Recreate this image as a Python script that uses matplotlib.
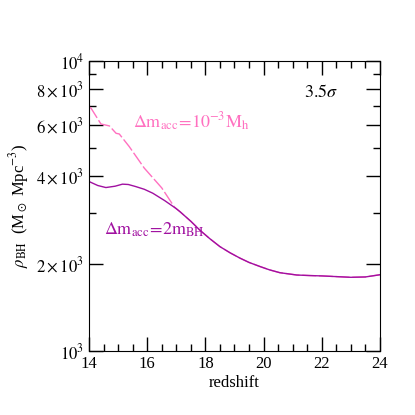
import matplotlib
matplotlib.use("Agg")
import matplotlib.pyplot as plt
from matplotlib.ticker import FixedLocator, FixedFormatter, MultipleLocator

plt.rcParams['font.family'] = ['Liberation Serif', 'DejaVu Serif']
plt.rcParams['mathtext.fontset'] = 'stix'

# solid curve: delta m_acc = 2 m_BH
z_bh = [14.0, 14.3, 14.58, 14.9, 15.15, 15.35, 15.6, 15.9, 16.19, 16.6,
        16.99, 17.13, 17.5, 17.81, 18.15, 18.5, 18.85, 19.19, 19.5, 19.88,
        20.2, 20.56, 21.14, 21.6, 22.0, 22.5, 23.0, 23.5, 24.0]
rho_bh = [3840, 3720, 3660, 3700, 3760, 3750, 3690, 3610, 3500, 3300,
          3100, 3020, 2800, 2610, 2440, 2290, 2180, 2090, 2020, 1955,
          1905, 1862, 1828, 1820, 1815, 1805, 1795, 1800, 1832]

# dashed curve: delta m_acc = 1e-3 M_h (joins the solid one near z~17)
z_h = [14.0, 14.07, 14.41, 14.70, 14.93, 15.04, 15.38, 15.9, 16.5, 16.93,
       16.99, 17.13, 17.5, 17.81, 18.15, 18.5, 18.85, 19.19, 19.5, 19.88,
       20.2, 20.56, 21.14, 21.6, 22.0, 22.5, 23.0, 23.5, 24.0]
rho_h = [6950, 6870, 6060, 5970, 5630, 5600, 5070, 4270, 3650, 3140,
         3100, 3020, 2800, 2610, 2440, 2290, 2180, 2090, 2020, 1955,
         1905, 1862, 1828, 1820, 1815, 1805, 1795, 1800, 1832]

yticks = [1000, 2000, 4000, 6000, 8000, 10000]
ylabels = [r'$10^3$', r'$2\times10^3$', r'$4\times10^3$', r'$6\times10^3$',
           r'$8\times10^3$', r'$10^4$']
yminor = [3000, 5000, 7000, 9000]

purple = '#a010a0'
pink = '#ff70c0'

fig = plt.figure(figsize=(4.15, 4.15), dpi=100)
ax = fig.add_axes([0.2145, 0.1542, 0.701, 0.699])

ax.plot(z_h, rho_h, color=pink, lw=1.0, dashes=(10, 2))
ax.plot(z_bh, rho_bh, color=purple, lw=1.0)

ax.set_yscale('log')
ax.set_xlim(14, 24)
ax.set_ylim(1000, 10000)

ax.yaxis.set_major_locator(FixedLocator(yticks))
ax.yaxis.set_major_formatter(FixedFormatter(ylabels))
ax.yaxis.set_minor_locator(FixedLocator(yminor))
ax.yaxis.set_minor_formatter(FixedFormatter([''] * len(yminor)))
ax.xaxis.set_major_locator(MultipleLocator(2))
ax.xaxis.set_minor_locator(MultipleLocator(0.5))

ax.tick_params(which='both', direction='in', top=True, right=True, labelsize=12)
ax.tick_params(which='major', length=10, width=1)
ax.tick_params(which='minor', length=5, width=1)

ax.set_xlabel('redshift', fontsize=12, labelpad=2)
ax.set_ylabel(r'$\rho_{\rm BH}$  (M$_\odot$ Mpc$^{-3}$)', fontsize=12, labelpad=4)

ax.text(15.5, 6160, r'$\Delta{\rm m}_{\rm acc}\!=\!10^{-3}{\rm M}_{\rm h}$',
        color=pink, fontsize=13, va='center', ha='left')
ax.text(14.5, 2610, r'$\Delta{\rm m}_{\rm acc}\!=\!2{\rm m}_{\rm BH}$',
        color=purple, fontsize=13, va='center', ha='left')
ax.text(21.4, 7770, r'$3.5\sigma$', color='black', fontsize=13,
        va='center', ha='left')

fig.savefig('out.png', dpi=100)
